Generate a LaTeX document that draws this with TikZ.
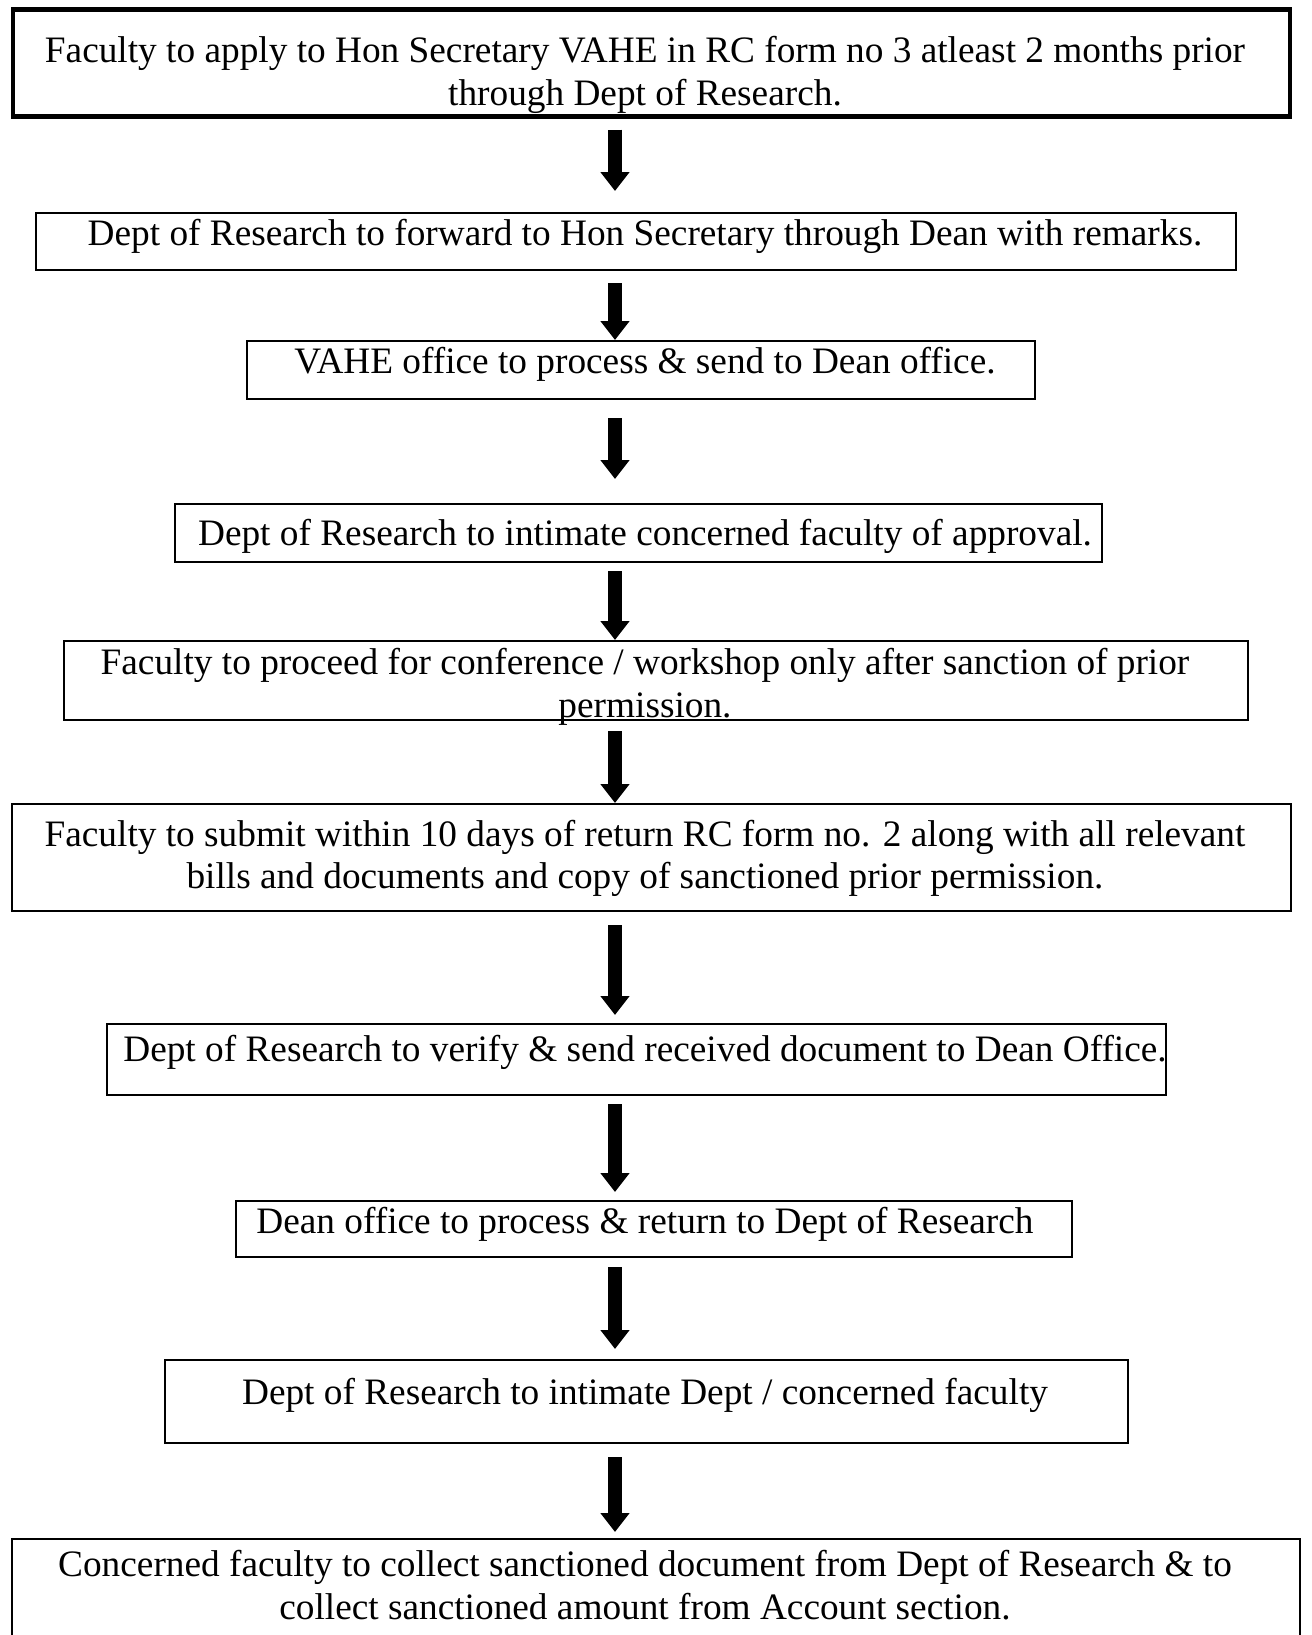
\documentclass[tikz,border=0pt]{standalone}
\usepackage{fontspec}
\setmainfont{Liberation Serif}
\usetikzlibrary{arrows.meta,calc}
\newlength{\px}\setlength{\px}{0.3217pt}
\tikzset{
  stepbox/.style={draw, line width=0.65pt, inner sep=0pt},
  steptext/.style={font=\fontsize{12}{13.7}\selectfont, align=center,
    anchor=base, inner sep=0pt},
  flow/.style={line width=4.2pt, -{Triangle[width=9pt, length=6.1pt]}},
}
\begin{document}
\begin{tikzpicture}[x=0.3217pt, y=-0.3217pt]
  \useasboundingbox (0,0) rectangle (1312,1635);

  % boxes
  \node[stepbox, line width=1.3pt, minimum width=1277*\px, minimum height=107*\px] (b1) at (651.5,63) {};
  \node[stepbox, minimum width=1200*\px, minimum height=57*\px] (b2) at (636,241.5) {};
  \node[stepbox, minimum width=788*\px, minimum height=58*\px] (b3) at (641,370) {};
  \node[stepbox, minimum width=927*\px, minimum height=58*\px] (b4) at (638.5,533) {};
  \node[stepbox, minimum width=1184*\px, minimum height=79*\px] (b5) at (656,680.5) {};
  \node[stepbox, minimum width=1279*\px, minimum height=107*\px] (b6) at (651.5,857.5) {};
  \node[stepbox, minimum width=1059*\px, minimum height=71*\px] (b7) at (636.5,1059.5) {};
  \node[stepbox, minimum width=836*\px, minimum height=56*\px] (b8) at (654,1229) {};
  \node[stepbox, minimum width=963*\px, minimum height=83*\px] (b9) at (646.5,1401.5) {};
  \node[stepbox, minimum width=1288*\px, minimum height=102*\px] (b10) at (656,1590) {};

  % texts (base = last line)
  \node[steptext] (t1) at (645,105)
    {Faculty to apply to Hon Secretary VAHE in RC form no 3 atleast 2 months prior\\through Dept of Research.};
  \node[steptext] (t2) at (645,245)
    {Dept of Research to forward to Hon Secretary through Dean with remarks.};
  \node[steptext] (t3) at (645,373)
    {VAHE office to process \& send to Dean office.};
  \node[steptext] (t4) at (645,545)
    {Dept of Research to intimate concerned faculty of approval.};
  \node[steptext] (t5) at (645,717.5)
    {Faculty to proceed for conference / workshop only after sanction of prior\\permission.};
  \node[steptext] (t6) at (645,888.6)
    {Faculty to submit within 10 days of return RC form no. 2 along with all relevant\\bills and documents and copy of sanctioned prior permission.};
  \node[steptext] (t7) at (645,1061)
    {Dept of Research to verify \& send received document to Dean Office.};
  \node[steptext] (t8) at (645,1233)
    {Dean office to process \& return to Dept of Research};
  \node[steptext] (t9) at (645,1404)
    {Dept of Research to intimate Dept / concerned faculty};
  \node[steptext] (t10) at (645,1619)
    {Concerned faculty to collect sanctioned document from Dept of Research \& to\\collect sanctioned amount from Account section.};

  % arrows
  \coordinate (ax) at (615,0);
  \foreach \a/\b/\s/\e in {b1/b2/11/21, b2/b3/12/0, b3/b4/18/24, b4/b5/8/0,
      b5/b6/10/0, b6/b7/13/8, b7/b8/8/8, b8/b9/9/10, b9/b10/13/6}
    \draw[flow] ($(\a.south -| ax)+(0,\s)$) -- ($(\b.north -| ax)+(0,-\e)$);
\end{tikzpicture}
\end{document}
